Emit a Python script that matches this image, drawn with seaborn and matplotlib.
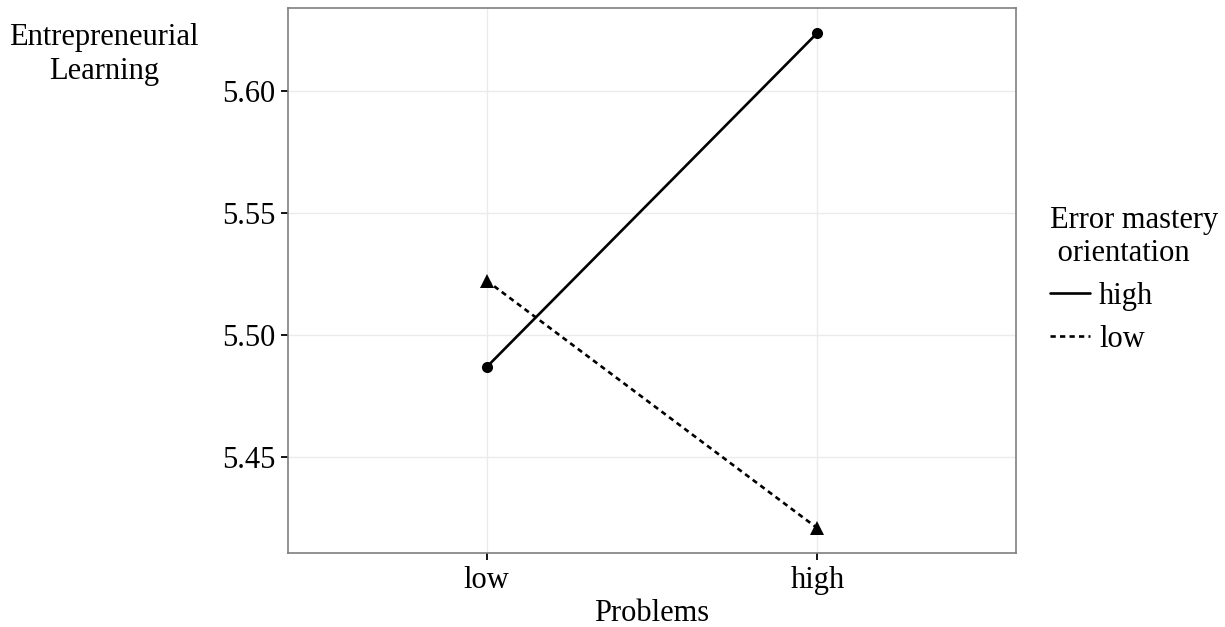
import numpy as np
import pandas as pd
import matplotlib
matplotlib.use("Agg")
import matplotlib.pyplot as plt
from matplotlib.lines import Line2D
import seaborn as sns

# 数据
problems = ["low", "high"]
orientation_levels = ["high", "low"]
learning_high = [5.487, 5.624]   # Error mastery orientation = high
learning_low = [5.5225, 5.421]   # Error mastery orientation = low
y_ticks = [5.45, 5.50, 5.55, 5.60]

df = pd.DataFrame({
    "Problems": problems * 2,
    "Orientation": [orientation_levels[0]] * 2 + [orientation_levels[1]] * 2,
    "Learning": learning_high + learning_low,
})

sns.set_theme(style="white")
plt.rcParams["font.family"] = ["Liberation Serif", "DejaVu Serif"]
plt.rcParams["text.color"] = "black"
plt.rcParams["axes.labelcolor"] = "black"

FS = 22

fig = plt.figure(figsize=(12.25, 6.27), dpi=100)
ax = fig.add_axes([0.2351, 0.1180, 0.5943, 0.8692])

sns.lineplot(data=df, x="Problems", y="Learning", style="Orientation",
             style_order=orientation_levels,
             markers={"high": "o", "low": "^"},
             dashes={"high": "", "low": (2, 1.6)},
             color="black", linewidth=1.9, markersize=8,
             markeredgewidth=0, legend=False, ax=ax)
# 三角形稍大一些
for ln in ax.lines:
    if ln.get_marker() == "^":
        ln.set_markersize(10)

# 坐标轴范围（类似 ggplot 的扩展）
ax.set_xlim(-0.6, 1.6)
allv = learning_high + learning_low
pad = (max(allv) - min(allv)) * 0.05
ax.set_ylim(min(allv) - pad, max(allv) + pad)
ax.set_yticks(y_ticks)
ax.set_yticklabels([f"{v:.2f}" for v in y_ticks])

ax.grid(True, color="#ebebeb", linewidth=1.0)
ax.set_axisbelow(True)
for s in ax.spines.values():
    s.set_color("#7f7f7f")
    s.set_linewidth(1.2)

ax.tick_params(axis="both", which="major", direction="out", length=5,
               width=1.3, color="black", labelsize=FS, labelcolor="black",
               pad=4, bottom=True, left=True)

ax.set_xlabel("Problems", fontsize=FS, labelpad=3)
ax.set_ylabel("Entrepreneurial\nLearning", fontsize=FS, rotation=0,
              ha="center", va="top", multialignment="center")
ax.yaxis.set_label_coords(-0.2527, 0.972)

handles = [Line2D([], [], color="black", linewidth=1.9, linestyle="-"),
           Line2D([], [], color="black", linewidth=1.9, dashes=(2, 1.6))]
leg = fig.legend(handles, orientation_levels, title="Error mastery\n orientation",
                 loc="upper left", bbox_to_anchor=(1050 / 1225, 1 - 206 / 627),
                 frameon=False, fontsize=FS, title_fontsize=FS,
                 handlelength=1.3, handletextpad=0.3, labelspacing=0.45,
                 borderaxespad=0, borderpad=0)
leg._legend_box.align = "left"

fig.savefig("out.png", dpi=100)
